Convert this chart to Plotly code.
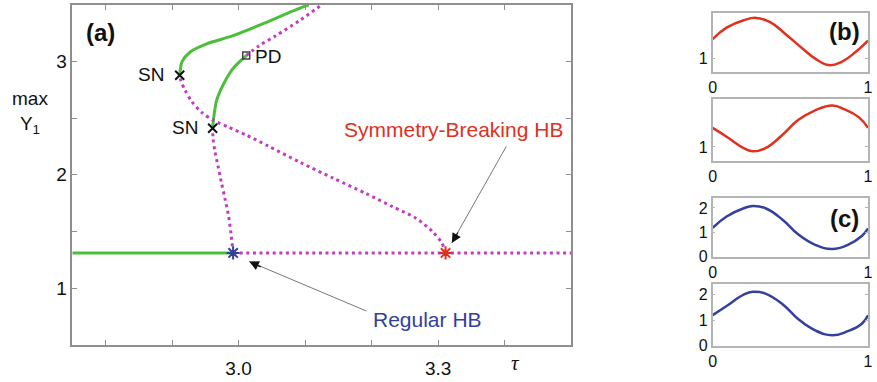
import plotly.graph_objects as go

W, H = 877, 382
FONT = "Liberation Sans, Arial, Helvetica, sans-serif"

# ---------------- data: panel (a) ----------------
# steady state
ss_level = 1.31
ss_stable_tau = [2.75, 2.9918]
ss_unstable_tau = [2.9918, 3.5]

# regular HB branch (unstable part from HB to SN)
reg_unst_tau = [2.9918, 2.9885, 2.9848, 2.9796, 2.9744, 2.9692, 2.9640, 2.9617, 2.9610]
reg_unst_y = [1.31, 1.485, 1.641, 1.788, 1.926, 2.074, 2.221, 2.316, 2.411]
# regular branch stable part SN -> PD
reg_st_tau = [2.9610, 2.9625, 2.9669, 2.9769, 2.9918, 3.0066, 3.0115]
reg_st_y = [2.411, 2.498, 2.654, 2.795, 2.939, 3.026, 3.052]
# regular branch after PD
reg_pd_tau = [3.0115, 3.0313, 3.0561, 3.0907, 3.1255]
reg_pd_y = [3.052, 3.141, 3.228, 3.358, 3.502]

# symmetry-breaking branch (unstable from HB to SN)
sb_unst_tau = [3.3112, 3.3057, 3.2909, 3.2671, 3.2314, 3.1928, 3.1423, 3.0932, 3.0442,
               3.0115, 2.9848, 2.9625, 2.9447, 2.9298, 2.9194, 2.9134, 2.9115]
sb_unst_y = [1.31, 1.398, 1.502, 1.615, 1.719, 1.831, 1.970, 2.108, 2.255,
             2.351, 2.420, 2.481, 2.550, 2.645, 2.749, 2.827, 2.879]
# symmetry-breaking stable part
sb_st_tau = [2.9115, 2.9127, 2.9149, 2.9273, 2.9521, 2.9918, 3.0412, 3.0809, 3.1056]
sb_st_y = [2.879, 2.939, 2.997, 3.084, 3.156, 3.228, 3.344, 3.444, 3.502]

sn_tau = [2.9115, 2.9610]
sn_y = [2.879, 2.411]
pd_tau = [3.0115]
pd_y = [3.052]
reg_hb = (2.9918, 1.31)
sb_hb = (3.3112, 1.31)

x_ticks = [2.8, 2.9, 3.0, 3.1, 3.2, 3.3, 3.4]
x_ticklabels = ["", "", "3.0", "", "", "3.3", ""]
y_ticks = [1, 1.5, 2, 2.5, 3]
y_ticklabels = ["1", "", "2", "", "3"]

# ---------------- data: panels (b),(c) ----------------
t_b1 = [0, 0.09, 0.20, 0.28, 0.37, 0.47, 0.58, 0.66, 0.75, 0.83, 0.92, 1.0]
y_b1 = [1.363, 1.574, 1.711, 1.754, 1.675, 1.453, 1.183, 1.002, 0.882, 0.943, 1.123, 1.332]
t_b2 = [0, 0.09, 0.20, 0.26, 0.34, 0.45, 0.55, 0.66, 0.77, 0.85, 0.94, 1.0]
y_b2 = [1.334, 1.180, 0.979, 0.922, 0.979, 1.214, 1.472, 1.644, 1.730, 1.661, 1.524, 1.334]
t_c1 = [0, 0.09, 0.20, 0.26, 0.34, 0.45, 0.55, 0.66, 0.77, 0.87, 0.96, 1.0]
y_c1 = [1.19, 1.65, 1.99, 2.08, 1.99, 1.52, 0.92, 0.49, 0.32, 0.49, 0.85, 1.16]
t_c2 = [0, 0.09, 0.20, 0.26, 0.34, 0.45, 0.55, 0.66, 0.77, 0.87, 0.96, 1.0]
y_c2 = [1.20, 1.56, 2.01, 2.12, 2.05, 1.63, 1.05, 0.60, 0.41, 0.57, 0.86, 1.19]

GREEN = "#4cbf3a"
MAG = "#c23cc0"
RED = "#e0301e"
BLUE = "#34409e"
AX = "#8e8e8e"
AX2 = "#b4b4b4"


def px(x):
    return x / W


def py(y):
    return 1 - y / H


fig = go.Figure()

dot = dict(color=MAG, width=3, dash="3px,3.6px")
solid = dict(color=GREEN, width=3)

fig.add_trace(go.Scatter(x=ss_stable_tau, y=[ss_level] * 2, mode="lines", line=solid))
fig.add_trace(go.Scatter(x=ss_unstable_tau, y=[ss_level] * 2, mode="lines", line=dot))
fig.add_trace(go.Scatter(x=reg_unst_tau, y=reg_unst_y, mode="lines", line=dict(dot, shape="spline", smoothing=0.8)))
fig.add_trace(go.Scatter(x=reg_st_tau, y=reg_st_y, mode="lines", line=dict(solid, shape="spline", smoothing=0.8)))
fig.add_trace(go.Scatter(x=reg_pd_tau, y=reg_pd_y, mode="lines", line=dict(dot, shape="spline", smoothing=0.8)))
fig.add_trace(go.Scatter(x=sb_unst_tau, y=sb_unst_y, mode="lines", line=dict(dot, shape="spline", smoothing=0.8)))
fig.add_trace(go.Scatter(x=sb_st_tau, y=sb_st_y, mode="lines", line=dict(solid, shape="spline", smoothing=0.8)))

fig.add_trace(go.Scatter(x=sn_tau, y=sn_y, mode="markers",
                         marker=dict(symbol="x-thin", size=9, line=dict(color="#111", width=2))))
fig.add_trace(go.Scatter(x=pd_tau, y=pd_y, mode="markers",
                         marker=dict(symbol="square-open", size=7, color="#444", line=dict(width=1.5))))
fig.add_trace(go.Scatter(x=[reg_hb[0]], y=[reg_hb[1]], mode="markers",
                         marker=dict(symbol="asterisk", size=11, line=dict(color=BLUE, width=2))))
fig.add_trace(go.Scatter(x=[sb_hb[0]], y=[sb_hb[1]], mode="markers",
                         marker=dict(symbol="asterisk", size=11, line=dict(color=RED, width=2))))

# small panels
small_line = dict(width=2.5, shape="spline", smoothing=1.3)
fig.add_trace(go.Scatter(x=t_b1, y=y_b1, mode="lines", line=dict(small_line, color=RED),
                         xaxis="x2", yaxis="y2"))
fig.add_trace(go.Scatter(x=t_b2, y=y_b2, mode="lines", line=dict(small_line, color=RED),
                         xaxis="x3", yaxis="y3"))
fig.add_trace(go.Scatter(x=t_c1, y=y_c1, mode="lines", line=dict(small_line, color=BLUE),
                         xaxis="x4", yaxis="y4"))
fig.add_trace(go.Scatter(x=t_c2, y=y_c2, mode="lines", line=dict(small_line, color=BLUE),
                         xaxis="x5", yaxis="y5"))

main_ax = dict(showgrid=False, zeroline=False, showline=True, linecolor=AX, linewidth=1.5,
               mirror="allticks", ticks="inside", ticklen=5, tickcolor=AX, tickwidth=1.2,
               tickfont=dict(family=FONT, size=19, color="#111"))

small_ax = dict(showgrid=False, zeroline=False, showline=True, linecolor=AX2, linewidth=1.5,
                mirror="allticks", ticks="inside", ticklen=3, tickcolor=AX2, tickwidth=1,
                ticklabeloverflow="allow",
                tickfont=dict(family=FONT, size=16, color="#111"))

layout = dict(
    width=W, height=H, margin=dict(l=0, r=0, t=0, b=0),
    paper_bgcolor="white", plot_bgcolor="white", showlegend=False,
    font=dict(family=FONT, color="#111"),
    xaxis=dict(main_ax, domain=[px(69), px(573)], range=[2.75, 3.5],
               tickvals=x_ticks, ticktext=x_ticklabels, anchor="y", ticklabelstandoff=6),
    yaxis=dict(main_ax, domain=[py(353), py(5)], range=[0.5, 3.5],
               tickvals=y_ticks, ticktext=y_ticklabels, anchor="x"),
)

panels = [
    ("2", (13, 74), [0.75, 1.85], [1], ["1"]),
    ("3", (101, 165), [0.75, 1.85], [1], ["1"]),
    ("4", (203, 263), [0, 2.4], [0, 1, 2], ["0", "1", "2"]),
    ("5", (291, 354), [0, 2.42], [0, 1, 2], ["0", "1", "2"]),
]
for k, (top, bot), yr, yt, ytl in panels:
    layout["xaxis" + k] = dict(small_ax, domain=[px(716), px(873)], range=[0, 1],
                               tickvals=[0, 1], ticktext=["0", "1"], anchor="y" + k)
    layout["yaxis" + k] = dict(small_ax, domain=[py(bot), py(top)], range=yr,
                               tickvals=yt, ticktext=ytl, anchor="x" + k)

fig.update_layout(**layout)

ann = []


def text(x, y, s, size=19, color="#111", xanchor="center", bold=False, family=FONT, italic=False):
    if bold:
        s = "<b>" + s + "</b>"
    if italic:
        s = "<i>" + s + "</i>"
    ann.append(dict(x=px(x), y=py(y), xref="paper", yref="paper", text=s, showarrow=False,
                    xanchor=xanchor, yanchor="middle", font=dict(family=family, size=size, color=color)))


text(98, 33, "(a)", size=24, bold=True)
text(164, 76, "SN", xanchor="right")
text(198, 131, "SN", xanchor="right")
text(252, 58, "PD", xanchor="left")
text(454, 133, "Symmetry-Breaking HB", size=21, color=RED)
text(428, 327, "Regular HB", size=21, color=BLUE)
text(26, 115, "max<br>Y<sub>1</sub>", size=19)
text(517, 372, "τ", size=21, italic=True, family="Liberation Serif, Times New Roman, serif")
text(849, 32, "(b)", size=24, bold=True)
text(849, 224, "(c)", size=24, bold=True)

# arrows: gray shaft + black head
arrows = [
    ((3.3206, 1.398), (3.4038, 2.264), (7, -12)),
    ((3.016, 1.234), (3.1943, 0.792), (13, 6)),
]
for head, tail, off in arrows:
    ann.append(dict(x=head[0], y=head[1], ax=tail[0], ay=tail[1], xref="x", yref="y",
                    axref="x", ayref="y", text="", showarrow=True, arrowhead=0,
                    arrowwidth=1, arrowcolor="#777"))
    ann.append(dict(x=head[0], y=head[1], ax=off[0], ay=off[1], xref="x", yref="y",
                    text="", showarrow=True, arrowhead=2, arrowsize=1.6, arrowwidth=1.2,
                    arrowcolor="#111"))

fig.update_layout(annotations=ann)
fig.write_html("out.html")
